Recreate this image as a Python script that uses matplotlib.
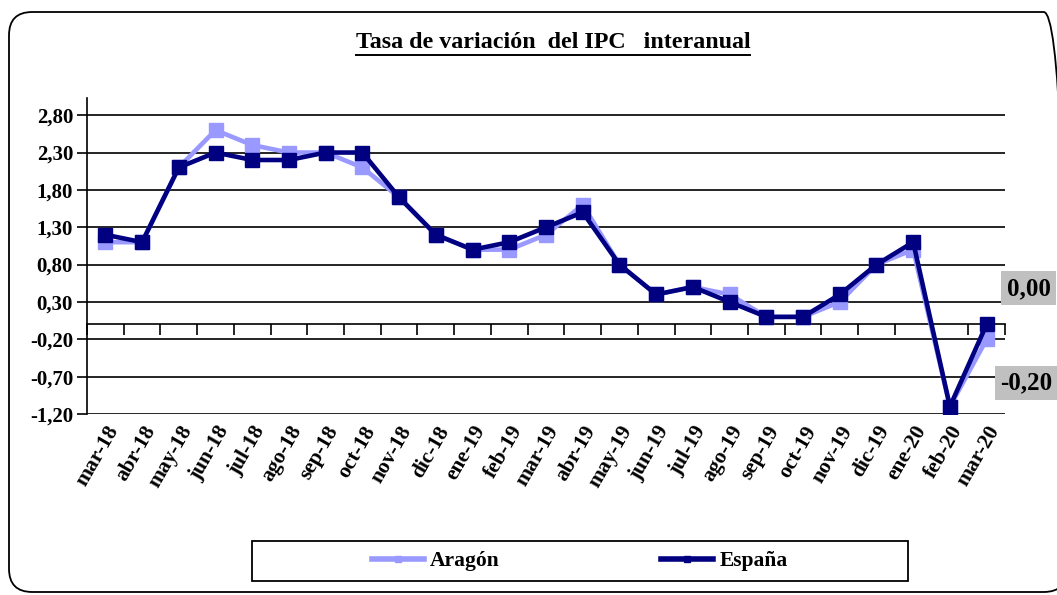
import matplotlib
matplotlib.use("Agg")
import matplotlib.pyplot as plt
from matplotlib.patches import FancyBboxPatch, Rectangle
from matplotlib.lines import Line2D

meses = ["mar-18", "abr-18", "may-18", "jun-18", "jul-18", "ago-18", "sep-18",
         "oct-18", "nov-18", "dic-18", "ene-19", "feb-19", "mar-19", "abr-19",
         "may-19", "jun-19", "jul-19", "ago-19", "sep-19", "oct-19", "nov-19",
         "dic-19", "ene-20", "feb-20", "mar-20"]
aragon = [1.1, 1.1, 2.1, 2.6, 2.4, 2.3, 2.3, 2.1, 1.7, 1.2, 1.0, 1.0, 1.2, 1.6,
          0.8, 0.4, 0.5, 0.4, 0.1, 0.1, 0.3, 0.8, 1.0, -1.1, -0.2]
espana = [1.2, 1.1, 2.1, 2.3, 2.2, 2.2, 2.3, 2.3, 1.7, 1.2, 1.0, 1.1, 1.3, 1.5,
          0.8, 0.4, 0.5, 0.3, 0.1, 0.1, 0.4, 0.8, 1.1, -1.1, 0.0]
yticks = [-1.2, -0.7, -0.2, 0.3, 0.8, 1.3, 1.8, 2.3, 2.8]

plt.rcParams["font.family"] = ["Liberation Serif", "DejaVu Serif"]
plt.rcParams["font.weight"] = "bold"

c_ar = "#9999ff"
c_es = "#000080"

fig = plt.figure(figsize=(10.57, 5.95), dpi=100)
W, H = 1057, 595

# rounded outer frame (right side runs past the image edge)
frame = FancyBboxPatch((9 / W, 3 / H), 1058 / W, 580 / H,
                       boxstyle="round,pad=0,rounding_size=0.022",
                       transform=fig.transFigure, fill=False,
                       edgecolor="black", linewidth=1.3, mutation_aspect=W / H)
fig.patches.append(frame)

title = fig.text(553 / W, 1 - 43 / H, "Tasa de variación  del IPC   interanual",
                 ha="center", va="center", fontsize=17.3, fontweight="bold")

ax = fig.add_axes([87 / W, 1 - 414 / H, (1005 - 87) / W, (414 - 98) / H])
x = list(range(len(meses)))
ymin, ymax = -1.2, 3.03
ax.set_xlim(-0.5, len(meses) - 0.5)
ax.set_ylim(ymin, ymax)

for v in yticks:
    ax.axhline(v, color="black", linewidth=1.2, zorder=1)

ax.plot(x, aragon, color=c_ar, linewidth=3.3, marker="s", markersize=10.5,
        label="Aragón", zorder=3)
ax.plot(x, espana, color=c_es, linewidth=3.3, marker="s", markersize=10.5,
        label="España", zorder=4)

ax.set_yticks(yticks)
ax.set_yticklabels([f"{v:.2f}".replace(".", ",") for v in yticks], fontsize=15)
ax.tick_params(axis="y", length=7, width=1.2, direction="out", pad=3)
ax.set_xticks(x)
ax.set_xticklabels(meses, rotation=60, ha="right", rotation_mode="anchor",
                   fontsize=15.5)
ax.tick_params(axis="x", length=0, pad=6)
for s in ["top", "right", "bottom"]:
    ax.spines[s].set_visible(False)
ax.spines["left"].set_linewidth(1.2)

# category axis crossing at zero with tick marks between categories
frac0 = (0 - ymin) / (ymax - ymin)
sec = ax.secondary_xaxis(frac0)
sec.set_xticks([i - 0.5 for i in range(len(meses) + 1)])
sec.set_xticklabels([])
sec.tick_params(axis="x", direction="out", length=8, width=1.2)
sec.spines["bottom"].set_linewidth(1.2)

# data labels for the last point
ax.annotate("0,00", xy=(x[-1], espana[-1]), xytext=(42, 36),
            textcoords="offset pixels", ha="center", va="center",
            fontsize=18, fontweight="bold", annotation_clip=False,
            bbox=dict(boxstyle="square,pad=0.22", facecolor="#c0c0c0",
                      edgecolor="none"))
ax.annotate("-0,20", xy=(x[-1], aragon[-1]), xytext=(40, -44),
            textcoords="offset pixels", ha="center", va="center",
            fontsize=18, fontweight="bold", annotation_clip=False,
            bbox=dict(boxstyle="square,pad=0.22", facecolor="#c0c0c0",
                      edgecolor="none"))

# legend
fig.patches.append(Rectangle((252 / W, 1 - 581 / H), 656 / W, 40 / H,
                             transform=fig.transFigure, fill=False,
                             edgecolor="black", linewidth=1.3))
handles = [Line2D([], [], color=c_ar, linewidth=4, marker="s", markersize=5),
           Line2D([], [], color=c_es, linewidth=4, marker="s", markersize=5)]
fig.legend(handles, ["Aragón", "España"], loc="center",
           bbox_to_anchor=(580 / W, 1 - 561 / H), ncol=2, frameon=False,
           fontsize=15.5, handlelength=2.4, handletextpad=0.3,
           columnspacing=7.5)

# underline the title
fig.canvas.draw()
bb = title.get_window_extent()
fig.add_artist(Line2D([bb.x0 / W, bb.x1 / W], [(bb.y0 - 1) / H, (bb.y0 - 1) / H],
                      transform=fig.transFigure, color="black", linewidth=1.4))

fig.savefig("out.png", dpi=100)
